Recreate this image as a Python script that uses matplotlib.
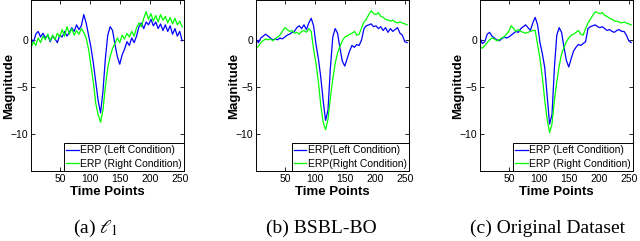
import matplotlib
matplotlib.use('Agg')
import matplotlib.pyplot as plt
import numpy as np

plt.rcParams['font.family'] = ['Liberation Sans', 'DejaVu Sans']
plt.rcParams['mathtext.fontset'] = 'stix'

# time points, every 4th sample
t = np.arange(1, 257, 4)

# (a) l1 reconstruction
l1_left = [0.2, -0.3, 0.6, 0.9, 0.3, 0.7, 0.2, 0.5, -0.2, 0.4, 0.1, -0.3, 0.5, 0.3, 0.9, 0.4,
           0.8, 1.3, 0.9, 1.6, 1.1, 1.5, 2.7, 1.8, 0.5, -0.8, -2.5, -4.5, -6.5, -7.8, -5.5, -2.0,
           0.5, 1.4, 1.0, -0.5, -1.8, -2.6, -1.6, -1.0, -0.2, -0.6, 0.2, -0.3, 0.4, 1.4, 1.8, 1.2,
           1.9, 1.6, 2.2, 1.5, 1.9, 1.2, 1.7, 1.0, 1.6, 0.9, 1.5, 0.6, 1.2, 0.4, 0.9, -0.1]
l1_right = [-0.9, -0.2, -0.6, 0.2, -0.3, 0.4, 0.0, 0.6, -0.1, 0.5, 0.0, 0.7, 0.3, 1.1, 0.4, 1.4,
            0.6, 1.2, 0.5, 1.0, 0.6, 1.2, 0.8, 0.2, -1.0, -2.8, -4.5, -6.8, -8.0, -8.8, -7.5, -5.0,
            -3.0, -1.8, -0.9, -0.4, 0.2, -0.3, 0.5, 0.1, 0.7, 0.3, 0.9, 0.4, 1.3, 1.8, 1.4, 2.3,
            3.0, 2.2, 2.8, 2.0, 2.6, 1.9, 2.7, 2.1, 2.5, 1.8, 2.4, 1.7, 2.3, 1.6, 2.0, 1.4]

# (b) BSBL-BO reconstruction
bo_left = [0.1, -0.3, 0.2, 0.4, 0.6, 0.4, 0.2, 0.0, 0.1, 0.0, 0.2, 0.1, 0.3, 0.5, 0.6, 0.8,
           0.9, 1.3, 1.5, 1.2, 1.6, 1.1, 1.8, 2.3, 1.5, -0.5, -2.0, -4.0, -6.5, -8.6, -7.5, -3.0,
           0.3, 1.2, 0.7, -0.9, -2.3, -2.8, -2.0, -1.2, -0.6, -0.8, -0.5, -0.6, 0.0, 1.2, 1.5, 1.6,
           1.7, 1.4, 1.5, 1.2, 1.4, 1.0, 1.3, 0.8, 1.2, 0.9, 1.1, 1.3, 0.7, 0.5, -0.2, -0.3]
bo_right = [-0.9, -0.7, -0.3, -0.1, 0.1, 0.0, 0.1, -0.1, 0.1, 0.3, 0.5, 0.9, 1.3, 1.1, 0.9, 1.0,
            0.7, 0.8, 0.6, 0.9, 1.0, 0.8, 1.2, 0.9, -1.0, -2.5, -4.5, -7.0, -8.8, -9.6, -8.5, -6.2,
            -4.2, -2.5, -1.4, -0.7, -0.1, 0.3, 0.4, 0.6, 0.7, 0.9, 0.5, 0.6, 1.3, 1.9, 2.2, 2.7,
            3.1, 2.8, 2.7, 2.9, 2.5, 2.4, 2.2, 2.1, 2.0, 2.1, 1.9, 1.8, 1.9, 1.8, 1.7, 1.6]

# (c) original dataset
orig_left = [0.2, -0.4, -0.2, 0.6, 0.8, 0.4, 0.2, 0.0, -0.1, 0.1, 0.3, 0.2, 0.3, 0.5, 0.7, 0.9,
             0.8, 1.2, 1.4, 1.6, 1.3, 1.0, 1.8, 2.4, 1.6, -0.3, -1.5, -3.0, -6.0, -9.0, -8.0, -3.0,
             0.5, 1.3, 0.8, -0.8, -2.2, -2.9, -2.0, -1.2, -0.8, -0.5, -0.6, -0.4, -0.2, 1.2, 1.4, 1.5,
             1.6, 1.4, 1.3, 1.4, 1.2, 1.0, 1.1, 0.9, 0.8, 1.0, 1.1, 0.9, 0.9, 0.5, -0.1, -0.3]
orig_right = [-0.8, -0.9, -0.6, -0.3, 0.0, 0.2, 0.1, -0.1, 0.0, 0.2, 0.3, 0.6, 0.9, 1.5, 1.2, 0.9,
              1.1, 0.9, 0.8, 0.7, 0.8, 0.9, 1.0, 1.0, -0.5, -2.0, -4.0, -6.5, -8.5, -9.9, -9.0, -6.5,
              -4.5, -2.8, -1.5, -0.8, -0.2, 0.2, 0.5, 0.6, 0.8, 1.0, 0.6, 0.5, 1.2, 1.8, 2.2, 2.6,
              3.0, 2.9, 2.8, 2.9, 2.6, 2.5, 2.3, 2.2, 2.0, 2.0, 1.9, 1.8, 1.9, 1.8, 1.7, 1.6]

panels = [
    (l1_left, l1_right, 'ERP (Left Condition)', 'ERP (Right Condition)', r'(a) $\ell_1$', 0.0484, 0.150),
    (bo_left, bo_right, 'ERP(Left Condition)', 'ERP(Right Condition)', '(b) BSBL-BO', 0.400, 0.502),
    (orig_left, orig_right, 'ERP (Left Condition)', 'ERP (Right Condition)', '(c) Original Dataset', 0.750, 0.855),
]

fig = plt.figure(figsize=(6.4, 2.41), dpi=100)

for left, right, lab1, lab2, caption, x0, cx in panels:
    ax = fig.add_axes([x0, 0.2905, 0.239, 0.7075])
    ax.plot(t, left, color='#0000ff', lw=0.9, label=lab1)
    ax.plot(t, right, color='#00ff00', lw=0.9, label=lab2)
    ax.set_xlim(1, 256)
    ax.set_ylim(-14, 4.2)
    ax.set_xticks([50, 100, 150, 200, 250])
    ax.set_yticks([-10, -5, 0])
    ax.tick_params(direction='in', top=True, right=True, length=3, width=0.6,
                   labelsize=7.5, pad=2)
    for s in ax.spines.values():
        s.set_linewidth(0.7)
    ax.set_xlabel('Time Points', fontsize=9.5, fontweight='bold', labelpad=1.5)
    ax.set_ylabel('Magnitude', fontsize=9.5, fontweight='bold')
    ax.yaxis.set_label_coords(-0.105, 0.5)
    leg = ax.legend(loc='lower right', fontsize=7.5, handlelength=1.2, handletextpad=0.15,
                    borderpad=0.2, labelspacing=0.35, borderaxespad=0.0, fancybox=False,
                    framealpha=1)
    leg.get_frame().set_edgecolor('black')
    leg.get_frame().set_linewidth(0.7)
    fig.text(cx, 0.052, caption, ha='center', va='center', fontsize=14,
             family=['Liberation Serif', 'DejaVu Serif'])

fig.savefig('out.png', dpi=100)
